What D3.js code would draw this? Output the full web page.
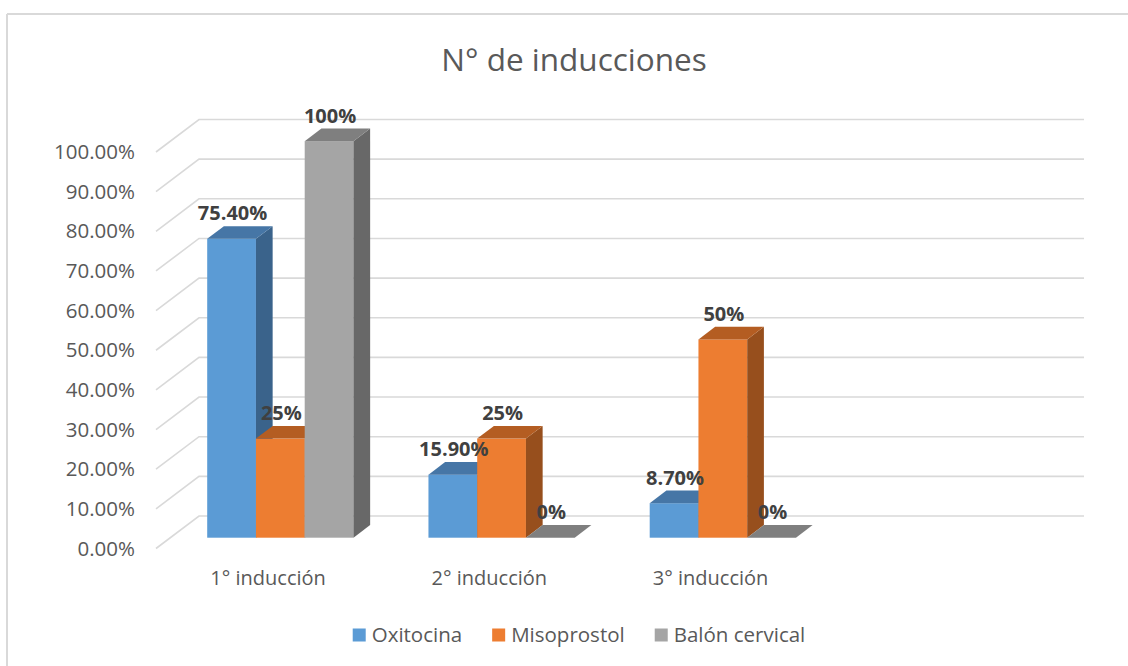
<!DOCTYPE html>
<html>
<head>
<meta charset="utf-8">
<script src="https://cdn.jsdelivr.net/npm/d3@7"></script>
<style>
  html, body { margin: 0; padding: 0; background: #fff; }
  text { font-family: "Open Sans", "Noto Sans", sans-serif; }
</style>
</head>
<body>
<svg id="chart" width="1128" height="666"></svg>
<script>
// ---- data ----
const title = "N° de inducciones";
const categories = ["1° inducción", "2° inducción", "3° inducción"];
const seriesNames = ["Oxitocina", "Misoprostol", "Balón cervical"];
const oxitocina = [0.754, 0.159, 0.087];
const misoprostol = [0.25, 0.25, 0.50];
const balonCervical = [1.00, 0, 0];
const valueLabels = [
  ["75.40%", "15.90%", "8.70%"],
  ["25%", "25%", "50%"],
  ["100%", "0%", "0%"]
];
const yTicks = [0, 0.1, 0.2, 0.3, 0.4, 0.5, 0.6, 0.7, 0.8, 0.9, 1.0];

// ---- styles ----
const colors = {
  front: ["#5B9BD5", "#ED7D31", "#A5A5A5"],
  top:   ["#4676A6", "#B45D22", "#7F7F7F"],
  side:  ["#3A638B", "#974F1D", "#686868"]
};
const series = [oxitocina, misoprostol, balonCervical];

const svg = d3.select("#chart");

// chart border (top & left visible)
svg.append("line").attr("x1", 7).attr("y1", 14).attr("x2", 1128).attr("y2", 14)
  .attr("stroke", "#d9d9d9").attr("stroke-width", 2);
svg.append("line").attr("x1", 7).attr("y1", 14).attr("x2", 7).attr("y2", 666)
  .attr("stroke", "#d9d9d9").attr("stroke-width", 2);

// ---- 3D geometry ----
const wallX0 = 199, wallX1 = 1084;
const floorDX = -43, floorDY = 32.5;      // back wall -> front edge
const barDX = -29.3, barDY = 21.7;        // back wall -> bar front plane
const depthDX = 16.7, depthDY = -12.6;    // bar depth

const slots = categories.concat([" "]);   // 4th empty slot as in the original
const yBack = d3.scaleLinear().domain([0, 1]).range([516, 119.5]);
const yBar = d3.scaleLinear().domain([0, 1]).range([516 + barDY, 119.5 + barDY]);

const pad = 0.339;
const xBar = d3.scaleBand().domain(slots)
  .range([wallX0 + barDX, wallX1 + barDX]).paddingInner(pad).paddingOuter(pad / 2);
const xSeries = d3.scaleBand().domain(d3.range(series.length)).range([0, xBar.bandwidth()]);
const xFront = d3.scaleBand().domain(slots)
  .range([wallX0 + floorDX, wallX1 + floorDX]);

// gridlines
const grid = svg.append("g");
yTicks.forEach(t => {
  const y = yBack(t);
  grid.append("polyline")
    .attr("points", `${wallX0 + floorDX},${y + floorDY} ${wallX0},${y} ${wallX1},${y}`)
    .attr("fill", "none").attr("stroke", "#d9d9d9").attr("stroke-width", 1.6);
});

// y-axis labels
const fmt = d3.format(".2%");
svg.append("g").selectAll("text").data(yTicks).join("text")
  .attr("x", 135).attr("y", d => yBack(d) + floorDY)
  .attr("dy", "0.35em").attr("text-anchor", "end")
  .attr("font-size", 20.5).attr("fill", "#595959")
  .text(d => fmt(d));

// category labels
svg.append("g").selectAll("text").data(categories).join("text")
  .attr("x", d => xFront(d) + xFront.bandwidth() / 2 + 1.5)
  .attr("y", 585).attr("text-anchor", "middle")
  .attr("font-size", 20).attr("fill", "#595959")
  .text(d => d);

// bars
const bars = svg.append("g");
categories.forEach((cat, ci) => {
  series.forEach((vals, si) => {
    const v = vals[ci];
    const x0 = xBar(cat) + xSeries(si);
    const x1 = x0 + xSeries.bandwidth();
    const yT = yBar(v), yB = yBar(0);
    const g = bars.append("g");
    if (yB - yT > 0.5) {
      g.append("rect").attr("x", x0).attr("y", yT).attr("width", x1 - x0).attr("height", yB - yT)
        .attr("fill", colors.front[si]);
      g.append("polygon")
        .attr("points", `${x1},${yT} ${x1 + depthDX},${yT + depthDY} ${x1 + depthDX},${yB + depthDY} ${x1},${yB}`)
        .attr("fill", colors.side[si]);
    }
    g.append("polygon")
      .attr("points", `${x0},${yT} ${x1},${yT} ${x1 + depthDX},${yT + depthDY} ${x0 + depthDX},${yT + depthDY}`)
      .attr("fill", colors.top[si]);
  });
});

// data labels
const labels = svg.append("g");
categories.forEach((cat, ci) => {
  series.forEach((vals, si) => {
    const v = vals[ci];
    const cx = xBar(cat) + xSeries(si) + xSeries.bandwidth() / 2 + 1;
    labels.append("text")
      .attr("x", cx).attr("y", yBar(v) + depthDY - 6)
      .attr("text-anchor", "middle")
      .attr("font-size", 20).attr("font-weight", "bold").attr("fill", "#404040")
      .text(valueLabels[si][ci]);
  });
});

// title
svg.append("text").attr("x", 574).attr("y", 70.5).attr("text-anchor", "middle")
  .attr("font-size", 31.5).attr("fill", "#595959").text(title);

// legend
const legend = svg.append("g");
const legendY = 635;
const sw = 13, gapText = 6, gapItem = 30;
let items = [];
let total = 0;
seriesNames.forEach((name, i) => {
  const t = legend.append("text").attr("y", legendY).attr("dy", "0.35em")
    .attr("font-size", 20.5).attr("fill", "#595959").text(name);
  const w = t.node().getComputedTextLength();
  items.push({ t, w, i });
  total += sw + gapText + w + (i < seriesNames.length - 1 ? gapItem : 0);
});
let lx = 579 - total / 2;
items.forEach(it => {
  legend.append("rect").attr("x", lx).attr("y", legendY - sw / 2).attr("width", sw).attr("height", sw)
    .attr("fill", colors.front[it.i]);
  it.t.attr("x", lx + sw + gapText);
  lx += sw + gapText + it.w + gapItem;
});
</script>
</body>
</html>
